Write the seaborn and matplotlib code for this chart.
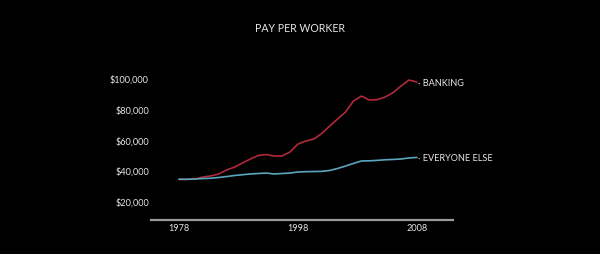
import numpy as np
import pandas as pd
import matplotlib
matplotlib.use("Agg")
import matplotlib.pyplot as plt
import seaborn as sns

years = list(range(1978, 2009))
banking = [34000, 34000, 34200, 35500, 36200, 37500, 40100, 42000, 44700, 47300,
           49600, 50200, 49300, 49300, 51900, 57100, 59100, 60400, 64000, 68900,
           73500, 78000, 85300, 88500, 85900, 86200, 87900, 90800, 95100, 99000, 97700]
everyone_else = [34000, 34000, 34200, 34500, 34700, 35200, 35800, 36500, 37000, 37500,
                 37800, 38100, 37500, 37800, 38100, 38800, 39000, 39100, 39200, 39800,
                 41100, 42700, 44400, 46000, 46100, 46400, 46800, 47000, 47300, 48000, 48300]
series_names = ["BANKING", "EVERYONE ELSE"]
colors = ["#b02a3c", "#5ba6bf"]
y_ticks = [20000, 40000, 60000, 80000, 100000]
y_tick_labels = ["$20,000", "$40,000", "$60,000", "$80,000", "$100,000"]
x_tick_pos = [1978, 1993, 2008]
x_tick_labels = ["1978", "1998", "2008"]
title = "PAY PER WORKER"

df = pd.DataFrame({
    "year": years * 2,
    "pay": banking + everyone_else,
    "series": [series_names[0]] * len(years) + [series_names[1]] * len(years),
})

sns.set_theme(style="dark")
plt.rcParams["font.family"] = ["Lato", "DejaVu Sans"]

fig = plt.figure(figsize=(6, 2.55), dpi=100, facecolor="black")
ax = fig.add_axes([151 / 600, 1 - 221 / 255, 302 / 600, 161 / 255])
ax.set_facecolor("black")

sns.lineplot(data=df, x="year", y="pay", hue="series", palette=colors,
             linewidth=1.2, ax=ax, legend=False)

ax.set_xlim(1974.47, 2012.55)
ax.set_ylim(7364, 112770)
ax.grid(False)
for s in ["top", "right", "left"]:
    ax.spines[s].set_visible(False)
ax.spines["bottom"].set_color("#9a9a9a")
ax.spines["bottom"].set_linewidth(1.6)

ax.set_xticks(x_tick_pos)
ax.set_xticklabels(x_tick_labels)
ax.set_yticks(y_ticks)
ax.set_yticklabels(y_tick_labels)
ax.tick_params(axis="x", length=0, pad=2.5, labelsize=6.6, colors="#e6e6e6")
ax.tick_params(axis="y", length=0, pad=1.5, labelsize=6.6, colors="#e6e6e6")
ax.set_xlabel("")
ax.set_ylabel("")

for name, vals in zip(series_names, [banking, everyone_else]):
    ax.annotate("\u00b7 " + name, xy=(years[-1], vals[-1]), xytext=(1, 0),
                textcoords="offset points", va="center", ha="left",
                fontsize=6.6, color="#e6e6e6")

fig.text(0.5, 1 - 28 / 255, title, ha="center", va="center",
         fontsize=7.6, color="#e6e6e6")

fig.savefig("out.png", dpi=100, facecolor="black")
